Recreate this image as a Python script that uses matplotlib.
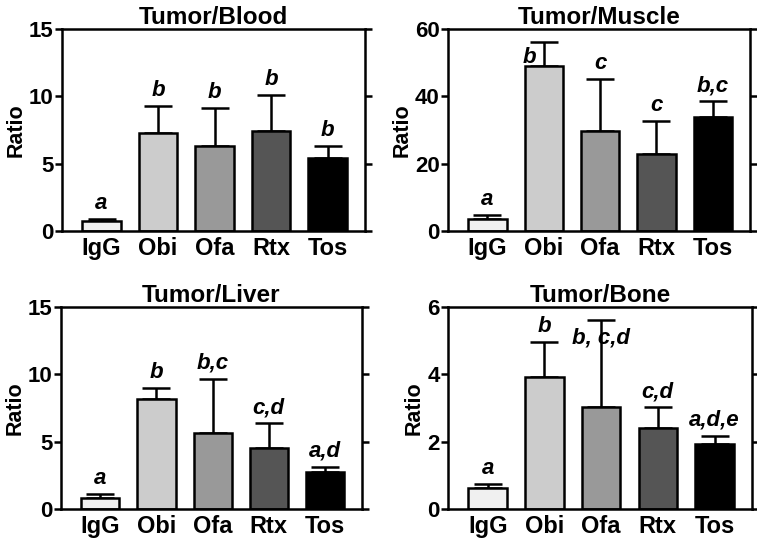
import numpy as np
import matplotlib.pyplot as plt

plt.rcParams['font.family'] = ['Liberation Sans', 'DejaVu Sans']
plt.rcParams['font.weight'] = 'bold'

groups = ['IgG', 'Obi', 'Ofa', 'Rtx', 'Tos']
colors = ['#f0f0f0', '#cccccc', '#999999', '#555555', '#000000']

blood_mean = [0.75, 7.3, 6.3, 7.4, 5.4]
blood_err = [0.12, 2.0, 2.8, 2.7, 0.9]
blood_sig = ['a', 'b', 'b', 'b', 'b']

muscle_mean = [3.6, 48.9, 29.6, 22.9, 34.0]
muscle_err = [1.2, 7.3, 15.6, 9.9, 4.5]
muscle_sig = ['a', 'b', 'c', 'c', 'b,c']

liver_mean = [0.82, 8.15, 5.66, 4.5, 2.78]
liver_err = [0.27, 0.8, 4.0, 1.85, 0.35]
liver_sig = ['a', 'b', 'b,c', 'c,d', 'a,d']

bone_mean = [0.62, 3.93, 3.04, 2.4, 1.93]
bone_err = [0.12, 1.03, 2.56, 0.62, 0.25]
bone_sig = ['a', 'b', 'b, c,d', 'c,d', 'a,d,e']

panels = [
    ('Tumor/Blood', blood_mean, blood_err, blood_sig, 15, [0, 5, 10, 15], [62, 29, 365, 231]),
    ('Tumor/Muscle', muscle_mean, muscle_err, muscle_sig, 60, [0, 20, 40, 60], [448, 29, 750, 231]),
    ('Tumor/Liver', liver_mean, liver_err, liver_sig, 15, [0, 5, 10, 15], [61, 307, 362, 509]),
    ('Tumor/Bone', bone_mean, bone_err, bone_sig, 6, [0, 2, 4, 6], [448, 307, 752, 509]),
]

W, H = 757, 540
fig = plt.figure(figsize=(W / 100, H / 100), dpi=100)

for title, mean, err, sig, ymax, ticks, box in panels:
    l, t, r, b = box
    ax = fig.add_axes([l / W, 1 - b / H, (r - l) / W, (b - t) / H])
    x = np.arange(len(groups))
    ax.bar(x, mean, width=0.68, color=colors, edgecolor='black', linewidth=1.8, zorder=2)
    ax.errorbar(x, mean, yerr=[np.zeros(len(err)), err], fmt='none', ecolor='black',
                elinewidth=1.8, capsize=10, capthick=1.8, zorder=1)
    for i in range(len(groups)):
        top = mean[i] + err[i]
        dx, dy = 0, 0.025 * ymax
        if title == 'Tumor/Muscle' and groups[i] == 'Obi':
            dx, dy = -0.25, -0.13 * ymax
        if title == 'Tumor/Bone' and groups[i] == 'Ofa':
            dy = -0.14 * ymax
        ax.text(x[i] + dx, top + dy, sig[i], ha='center', va='bottom',
                fontsize=16, fontstyle='italic', fontweight='bold')
    ax.set_xlim(-0.7, 4.66)
    ax.set_ylim(0, ymax)
    ax.set_yticks(ticks)
    ax.set_xticks(x)
    ax.set_xticklabels(groups, fontsize=17, fontweight='bold')
    ax.tick_params(axis='x', length=0, pad=4)
    ax.tick_params(axis='y', which='both', direction='out', length=5, width=1.8,
                   labelsize=16, right=True, pad=1)
    for lab in ax.get_yticklabels():
        lab.set_fontweight('bold')
    for s in ax.spines.values():
        s.set_linewidth(1.8)
    ax.set_ylabel('Ratio', fontsize=15.5, fontweight='bold', labelpad=2)
    ax.set_title(title, fontsize=17.5, fontweight='bold', pad=2)

fig.savefig('out.png', dpi=100)
